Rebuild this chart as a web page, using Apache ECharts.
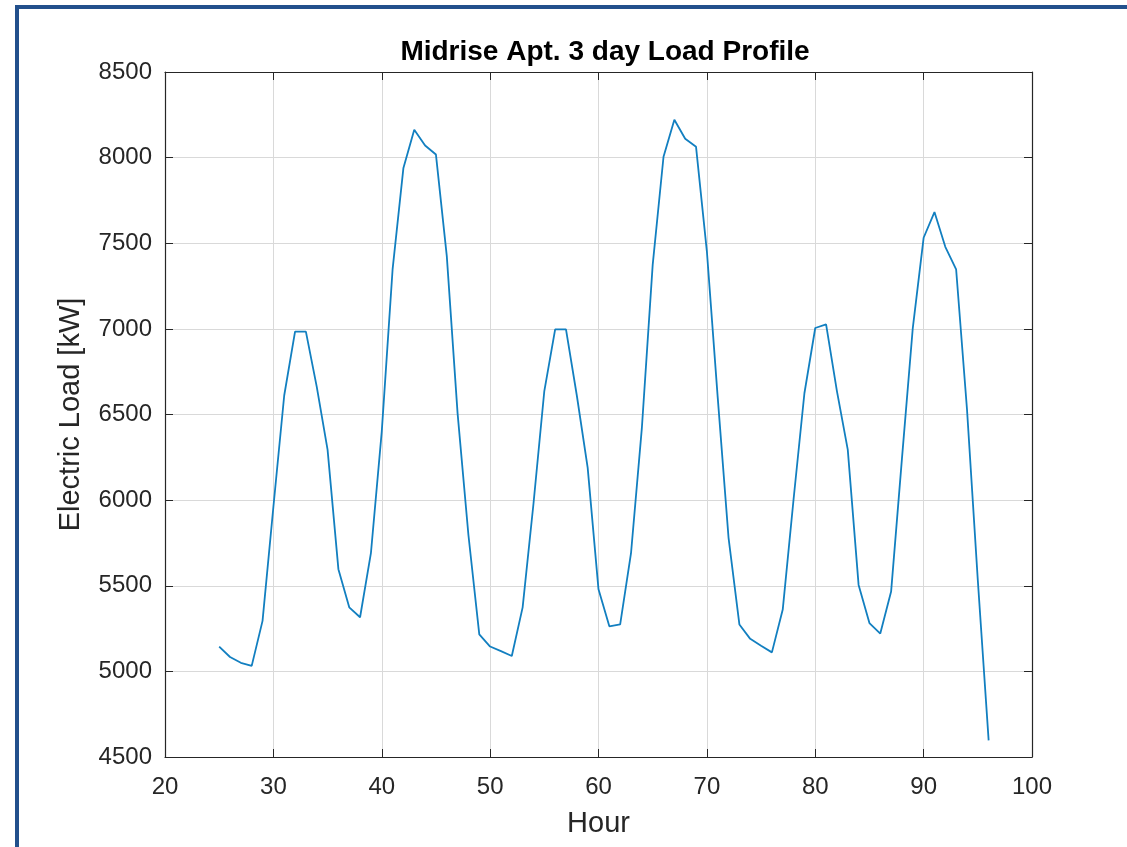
<!DOCTYPE html>
<html>
<head>
<meta charset="utf-8">
<title>Midrise Apt. 3 day Load Profile</title>
<script src="https://cdn.jsdelivr.net/npm/echarts@6/dist/echarts.min.js"></script>
<style>
  html, body { margin: 0; padding: 0; background: #fff; }
  #frame {
    position: absolute; left: 15px; top: 5px; right: 0; bottom: 0;
    border-left: 4px solid #22508c; border-top: 4px solid #22508c;
  }
  #chart { position: absolute; left: 0; top: 0; width: 1127px; height: 847px; }
</style>
</head>
<body>
<div id="frame"></div>
<div id="chart"></div>
<script>
// hours 25..96
const hours = [
  25, 26, 27, 28, 29, 30, 31, 32, 33, 34, 35, 36, 37, 38, 39, 40, 41, 42,
  43, 44, 45, 46, 47, 48, 49, 50, 51, 52, 53, 54, 55, 56, 57, 58, 59, 60,
  61, 62, 63, 64, 65, 66, 67, 68, 69, 70, 71, 72, 73, 74, 75, 76, 77, 78,
  79, 80, 81, 82, 83, 84, 85, 86, 87, 88, 89, 90, 91, 92, 93, 94, 95, 96
];
// electric load, kW
const loads = [
  5145, 5084, 5050, 5032, 5295, 5960, 6611, 6984, 6984, 6663, 6295, 5597, 5374, 5316, 5690, 6400, 7347, 7940,
  8163, 8071, 8018, 7426, 6505, 5795, 5216, 5145, 5118, 5090, 5374, 5979, 6637, 6997, 6997, 6611, 6190, 5479,
  5263, 5274, 5690, 6420, 7374, 8005, 8221, 8110, 8063, 7453, 6600, 5780, 5274, 5190, 5150, 5111, 5361, 6005,
  6624, 7005, 7026, 6637, 6295, 5505, 5282, 5221, 5466, 6242, 7005, 7532, 7682, 7479, 7347, 6532, 5532, 4597
];

const chart = echarts.init(document.getElementById("chart"));

const axisColor = "#262626";
const gridColor = "#d9d9d9";
const fontFamily = "'Liberation Sans', Arial, sans-serif";

const options = {
  backgroundColor: "transparent",
  animation: false,
  title: {
    text: "Midrise Apt. 3 day Load Profile",
    left: 600,
    top: 33,
    textAlign: "center",
    textStyle: { fontSize: 28, fontWeight: "bold", color: "#000", fontFamily: fontFamily },
  },
  grid: { left: 165, right: 95, top: 72, bottom: 90 },
  xAxis: [
    {
      type: "value",
      min: 20,
      max: 100,
      interval: 10,
      name: "Hour",
      nameLocation: "middle",
      nameGap: 52,
      nameTextStyle: { fontSize: 29, color: axisColor, fontFamily: fontFamily },
      axisLine: { lineStyle: { color: axisColor, width: 1.2 } },
      axisTick: { inside: true, length: 8, lineStyle: { color: axisColor } },
      axisLabel: { margin: 18, fontSize: 24, color: axisColor, fontFamily: fontFamily },
      splitLine: { show: true, lineStyle: { color: gridColor, width: 1 } },
    },
    {
      type: "value",
      position: "top",
      min: 20,
      max: 100,
      interval: 10,
      axisLine: { show: true, lineStyle: { color: axisColor, width: 1.2 } },
      axisTick: { inside: true, length: 8, lineStyle: { color: axisColor } },
      axisLabel: { show: false },
      splitLine: { show: false },
    },
  ],
  yAxis: [
    {
      type: "value",
      min: 4500,
      max: 8500,
      interval: 500,
      name: "Electric Load [kW]",
      nameLocation: "middle",
      nameGap: 80,
      nameTextStyle: { fontSize: 29, color: axisColor, fontFamily: fontFamily },
      axisLine: { show: true, lineStyle: { color: axisColor, width: 1.2 } },
      axisTick: { show: true, inside: true, length: 8, lineStyle: { color: axisColor } },
      axisLabel: {
        margin: 13,
        fontSize: 24,
        color: axisColor,
        fontFamily: fontFamily,
        formatter: (v) => String(v),
      },
      splitLine: { show: true, lineStyle: { color: gridColor, width: 1 } },
    },
    {
      type: "value",
      position: "right",
      min: 4500,
      max: 8500,
      interval: 500,
      axisLine: { show: true, lineStyle: { color: axisColor, width: 1.2 } },
      axisTick: { show: true, inside: true, length: 8, lineStyle: { color: axisColor } },
      axisLabel: { show: false },
      splitLine: { show: false },
    },
  ],
  series: [
    {
      type: "line",
      data: hours.map((h, i) => [h, loads[i]]),
      showSymbol: false,
      lineStyle: { color: "#127fc0", width: 1.8 },
      itemStyle: { color: "#127fc0" },
    },
  ],
};

chart.setOption(options);
</script>
</body>
</html>
